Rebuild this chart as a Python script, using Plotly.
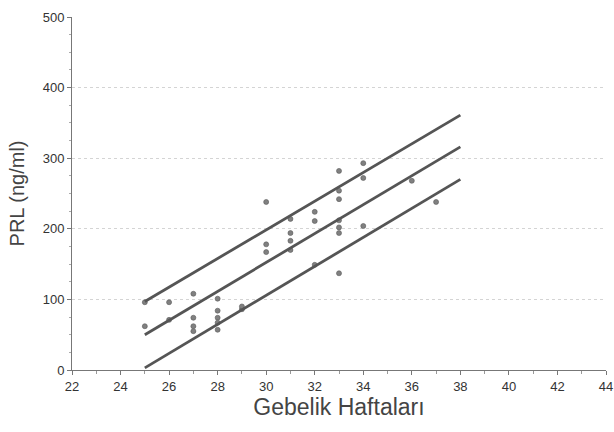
import plotly.graph_objects as go

# Scatter data: gestational week vs PRL (ng/ml)
weeks = [25, 25, 26, 26, 27, 27, 27, 27, 28, 28, 28, 28, 28, 29, 29,
         30, 30, 30, 31, 31, 31, 31, 32, 32, 32,
         33, 33, 33, 33, 33, 33, 33, 34, 34, 34, 36, 37]
prl = [62, 96, 96, 71, 108, 74, 62, 55, 101, 84, 74, 67, 57, 86, 90,
       238, 178, 167, 214, 194, 183, 170, 224, 211, 149,
       282, 254, 242, 212, 202, 194, 137, 293, 272, 204, 268, 238]

# Regression line and bounds
line_x = [25, 38]
upper_y = [97, 361]
mid_y = [50, 316]
lower_y = [3, 270]

x_ticks = [22, 24, 26, 28, 30, 32, 34, 36, 38, 40, 42, 44]
y_ticks = [0, 100, 200, 300, 400, 500]

fig = go.Figure()
fig.add_trace(go.Scatter(x=weeks, y=prl, mode="markers",
                         marker=dict(size=5, color="#808080",
                                     line=dict(width=0.6, color="#5a5a5a")),
                         showlegend=False))
for yy in (upper_y, mid_y, lower_y):
    fig.add_trace(go.Scatter(x=line_x, y=yy, mode="lines",
                             line=dict(color="#555", width=2.8),
                             showlegend=False))

fig.update_layout(
    width=614, height=432,
    margin=dict(l=72, r=8, t=17, b=62, autoexpand=False),
    paper_bgcolor="white", plot_bgcolor="white",
    font=dict(family="Liberation Sans, Arial, sans-serif", color="#333"),
)
fig.update_xaxes(
    range=[22, 44], tickvals=x_ticks, ticktext=[str(v) for v in x_ticks],
    showgrid=False, zeroline=False, automargin=False,
    showline=True, linecolor="#777", linewidth=1,
    ticks="outside", ticklen=4, tickcolor="#777",
    minor=dict(dtick=1, ticks="outside", ticklen=3, tickcolor="#999"),
    tickfont=dict(size=13, color="#333"),
    title=dict(text="Gebelik Haftaları", font=dict(size=23, color="#444"), standoff=2),
)
fig.update_yaxes(
    range=[0, 500], tickvals=y_ticks, ticktext=[str(v) for v in y_ticks],
    showgrid=True, gridcolor="#d4d4d4", griddash="dot", gridwidth=1,
    zeroline=False, automargin=False,
    showline=True, linecolor="#777", linewidth=1,
    ticks="outside", ticklen=4, tickcolor="#777",
    minor=dict(dtick=25, ticks="outside", ticklen=2, tickcolor="#aaa", showgrid=False),
    tickfont=dict(size=13, color="#333"),
    title=dict(text="PRL (ng/ml)", font=dict(size=20, color="#444"), standoff=12),
)

fig.write_html("out.html", config={"displayModeBar": False},
               post_script="document.body.style.margin='0';document.body.style.overflow='hidden';")
